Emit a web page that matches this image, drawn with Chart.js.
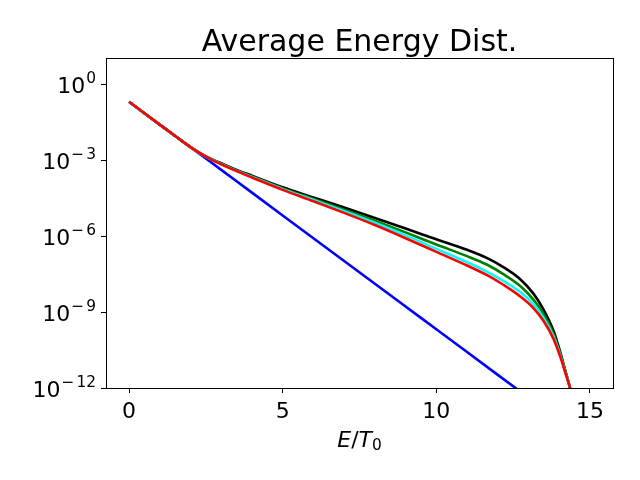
<!DOCTYPE html>
<html>
<head>
<meta charset="utf-8">
<script src="https://cdn.jsdelivr.net/npm/chart.js@4/dist/chart.umd.min.js"></script>
<style>
  html, body { margin: 0; padding: 0; background: #fff; }
  #wrap { width: 640px; height: 480px; }
</style>
</head>
<body>
<div id="wrap"><canvas id="c" width="640" height="480"></canvas></div>
<script>
'use strict';
// values; y values kept as log10 exponents
const energy = [0, 0.5, 1, 1.5, 2, 2.5, 3, 3.5, 4, 5, 6, 7, 8, 9, 10, 11, 11.64, 12.18, 12.73, 13.16, 13.49, 13.81, 14.03, 14.2, 14.35, 14.5];
const blackExp = [-0.69, -1.14, -1.59, -2.04, -2.48, -2.85, -3.12, -3.38, -3.61, -4.07, -4.47, -4.87, -5.28, -5.70, -6.12, -6.54, -6.86, -7.22, -7.70, -8.27, -8.90, -9.73, -10.57, -11.32, -11.98, -12.8];
const greenExp = [-0.69, -1.14, -1.59, -2.04, -2.48, -2.85, -3.14, -3.40, -3.64, -4.11, -4.53, -4.95, -5.39, -5.85, -6.33, -6.79, -7.12, -7.50, -7.97, -8.51, -9.08, -9.86, -10.64, -11.35, -11.99, -12.8];
const cyanExp = [-0.69, -1.14, -1.59, -2.04, -2.48, -2.86, -3.15, -3.42, -3.66, -4.14, -4.57, -5.01, -5.47, -5.97, -6.50, -7.03, -7.40, -7.77, -8.21, -8.69, -9.23, -9.96, -10.70, -11.38, -11.99, -12.8];
const redExp = [-0.69, -1.14, -1.59, -2.04, -2.48, -2.86, -3.16, -3.43, -3.68, -4.17, -4.62, -5.08, -5.56, -6.08, -6.62, -7.16, -7.53, -7.92, -8.38, -8.84, -9.35, -10.05, -10.75, -11.40, -12.0, -12.8];
const blueE = [0, 1, 2, 3, 4, 5, 6, 7, 8, 9, 10, 11, 12, 13];
const blueExp = [-0.69, -1.59, -2.48, -3.38, -4.28, -5.18, -6.08, -6.98, -7.88, -8.78, -9.68, -10.58, -11.48, -12.38];
const xTicks = [0, 5, 10, 15];
const yTickExp = [0, -3, -6, -9, -12];
const title = 'Average Energy Dist.';

const pts = (xs, es) => xs.map((x, i) => ({ x: x, y: Math.pow(10, es[i]) }));
const line = (label, xs, es, color, order) => ({
  label, data: pts(xs, es), borderColor: color, borderWidth: 2.6,
  pointRadius: 0, fill: false, cubicInterpolationMode: 'monotone', order,
});

const FONT = '"DejaVu Sans"';

// title over the plot centre, framed box, 10^n tick labels, E/T0 label
const decor = {
  id: 'decor',
  afterDraw(chart) {
    const ctx = chart.ctx, a = chart.chartArea, ys = chart.scales.y;
    ctx.save();
    ctx.strokeStyle = '#000';
    ctx.lineWidth = 1;
    ctx.strokeRect(Math.round(a.left) + 0.5, Math.round(a.top) + 0.5,
      Math.round(a.right - a.left), Math.round(a.bottom - a.top));
    ctx.fillStyle = '#000';
    ctx.textBaseline = 'alphabetic';
    ctx.font = '30px ' + FONT;
    ctx.textAlign = 'center';
    ctx.fillText(title, (a.left + a.right) / 2, 51);

    ctx.textAlign = 'left';
    for (const k of yTickExp) {
      const py = ys.getPixelForValue(Math.pow(10, k));
      const digits = String(Math.abs(k));
      ctx.font = '15.4px ' + FONT;
      const dw = ctx.measureText(digits).width;
      const mw = k < 0 ? ctx.measureText('\u2212').width + 2 : 0;
      let x = a.left - 10 - dw - mw;
      ctx.font = '22px ' + FONT;
      const bw = ctx.measureText('10').width;
      ctx.fillText('10', x - bw - 1, py + 9);
      ctx.font = '15.4px ' + FONT;
      if (k < 0) ctx.fillText('\u2212', x, py - 1.3);
      ctx.fillText(digits, x + mw, py - 1.3);
    }

    // x label: italic E, upright slash, italic T, upright subscript 0
    const parts = [
      ['E', 'italic 22px ' + FONT, 0],
      ['/', '22px ' + FONT, 0],
      ['T', 'italic 22px ' + FONT, 0],
      ['0', '15.4px ' + FONT, 3.5],
    ];
    let total = 0;
    for (const p of parts) { ctx.font = p[1]; total += ctx.measureText(p[0]).width; }
    let x = (a.left + a.right) / 2 - total / 2;
    for (const p of parts) {
      ctx.font = p[1];
      ctx.fillText(p[0], x, 446.5 + p[2]);
      x += ctx.measureText(p[0]).width;
    }
    ctx.restore();
  },
};

new Chart(document.getElementById('c'), {
  type: 'line',
  data: {
    datasets: [
      line('blue', blueE, blueExp, '#0000ff', 5),
      line('black', energy, blackExp, '#000000', 4),
      line('green', energy, greenExp, '#008000', 3),
      line('cyan', energy, cyanExp, '#00ffff', 2),
      line('red', energy, redExp, '#ff0000', 1),
    ],
  },
  options: {
    responsive: false, animation: false,
    layout: { padding: { top: 58, right: 27, left: 0, bottom: 0 } },
    plugins: { legend: { display: false }, tooltip: { enabled: false }, title: { display: false } },
    scales: {
      x: {
        type: 'linear', min: -0.75, max: 15.75,
        afterBuildTicks: (s) => { s.ticks = xTicks.map(v => ({ value: v })); },
        afterFit: (s) => { s.height = 92; },
        grid: { drawOnChartArea: false, drawTicks: true, tickLength: 5, color: '#000' },
        border: { color: '#000', width: 1 },
        ticks: { color: '#000', padding: 6, maxRotation: 0, font: { family: 'DejaVu Sans', size: 22 } },
      },
      y: {
        type: 'logarithmic', min: 1e-12, max: 11,
        afterBuildTicks: (s) => { s.ticks = yTickExp.map(k => ({ value: Math.pow(10, k) })); },
        afterFit: (s) => { s.width = 106; },
        grid: { drawOnChartArea: false, drawTicks: true, tickLength: 5, color: '#000' },
        border: { color: '#000', width: 1 },
        ticks: { display: false },
      },
    },
  },
  plugins: [decor],
});
</script>
</body>
</html>
